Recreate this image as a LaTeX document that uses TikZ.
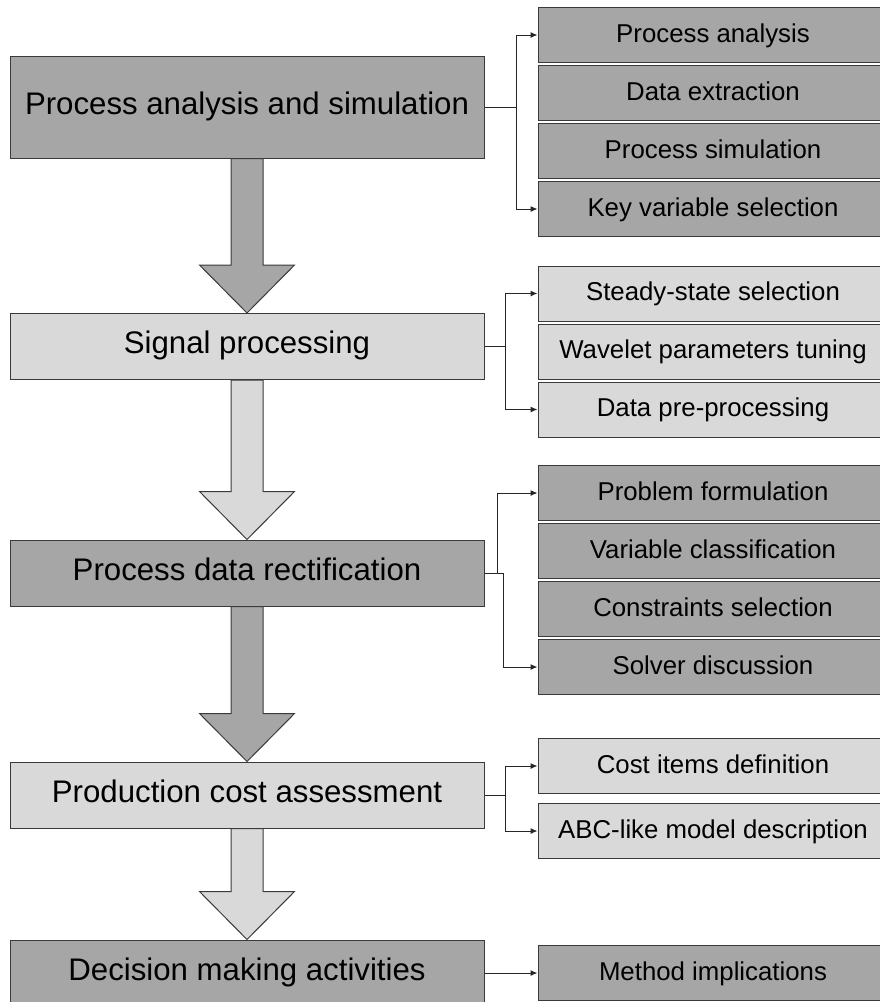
\documentclass[tikz,border=0pt]{standalone}
\usepackage{fontspec}
\setmainfont{Liberation Sans}
\usetikzlibrary{positioning,arrows.meta}

\definecolor{darkbox}{HTML}{A6A6A6}
\definecolor{lightbox}{HTML}{D9D9D9}
\definecolor{edge}{HTML}{3A3A3A}

% wide block arrow from the bottom of #1 to the top of #2
\newcommand{\bigarrow}[3]{%
  \draw[draw=edge,fill=#3,line width=0.5pt]
    ([xshift=-8pt]#1.south) -- ([xshift=-8pt,yshift=24pt]#2.north)
    -- ([xshift=-23.75pt,yshift=24pt]#2.north) -- (#2.north)
    -- ([xshift=23.75pt,yshift=24pt]#2.north) -- ([xshift=8pt,yshift=24pt]#2.north)
    -- ([xshift=8pt]#1.south) -- cycle;}

\begin{document}
\begin{tikzpicture}[x=0.5pt,y=-0.5pt,
	stage/.style={draw=edge,line width=0.5pt,minimum width=237pt,minimum height=33pt,
		inner sep=0pt,text height=0.72em,text depth=0pt,font=\fontsize{15.6}{18}\selectfont},
	task/.style={draw=edge,line width=0.5pt,minimum width=175pt,minimum height=27.5pt,
		inner sep=0pt,text height=0.72em,text depth=0pt,font=\fontsize{12.9}{15}\selectfont},
	link/.style={draw=black!85,line width=0.5pt,-{Latex[length=3.5pt,width=3pt]}}]
		\useasboundingbox (0,0) rectangle (879,1002);

		% stages
		\node[stage,fill=darkbox,minimum height=51pt] (pas) at (247,107) {Process analysis and simulation};
		\node[stage,fill=lightbox] (sig) at (247,346.5) {Signal processing};
		\node[stage,fill=darkbox] (rec) at (247,573) {Process data rectification};
		\node[stage,fill=lightbox] (cost) at (247,795) {Production cost assessment};
		\node[stage,fill=darkbox] (dec) at (247,973) {Decision making activities};

		\bigarrow{pas}{sig}{darkbox}
		\bigarrow{sig}{rec}{lightbox}
		\bigarrow{rec}{cost}{darkbox}
		\bigarrow{cost}{dec}{lightbox}

		% tasks of each stage
		\node[task,fill=darkbox] (pas1) at (713,35) {Process analysis};
		\node[task,fill=darkbox,below=1pt of pas1] (pas2) {Data extraction};
		\node[task,fill=darkbox,below=1pt of pas2] (pas3) {Process simulation};
		\node[task,fill=darkbox,below=1pt of pas3] (pas4) {Key variable selection};

		\node[task,fill=lightbox] (sig1) at (713,293.5) {Steady-state selection};
		\node[task,fill=lightbox,below=1pt of sig1] (sig2) {Wavelet parameters tuning};
		\node[task,fill=lightbox,below=1pt of sig2] (sig3) {Data pre-processing};

		\node[task,fill=darkbox] (rec1) at (713,493) {Problem formulation};
		\node[task,fill=darkbox,below=1pt of rec1] (rec2) {Variable classification};
		\node[task,fill=darkbox,below=1pt of rec2] (rec3) {Constraints selection};
		\node[task,fill=darkbox,below=1pt of rec3] (rec4) {Solver discussion};

		\node[task,fill=lightbox] (cost1) at (713,766) {Cost items definition};
		\node[task,fill=lightbox,below=4.5pt of cost1] (cost2) {ABC-like model description};

		\node[task,fill=darkbox] (dec1) at (713,973) {Method implications};

		% links
		\draw[link] (pas.east) -- ++(32,0) |- (pas1.west);
		\draw[link] (pas.east) -- ++(32,0) |- (pas4.west);
		\draw[link] (sig.east) -- ++(21,0) |- (sig1.west);
		\draw[link] (sig.east) -- ++(21,0) |- (sig3.west);
		\draw[link] (rec.east) -- ++(13,0) |- (rec1.west);
		\draw[link] (rec.east) -- ++(19,0) |- (rec4.west);
		\draw[link] (cost.east) -- ++(21,0) |- (cost1.west);
		\draw[link] (cost.east) -- ++(21,0) |- (cost2.west);
		\draw[link] (dec.east) -- (dec1.west);
	\end{tikzpicture}
\end{document}
